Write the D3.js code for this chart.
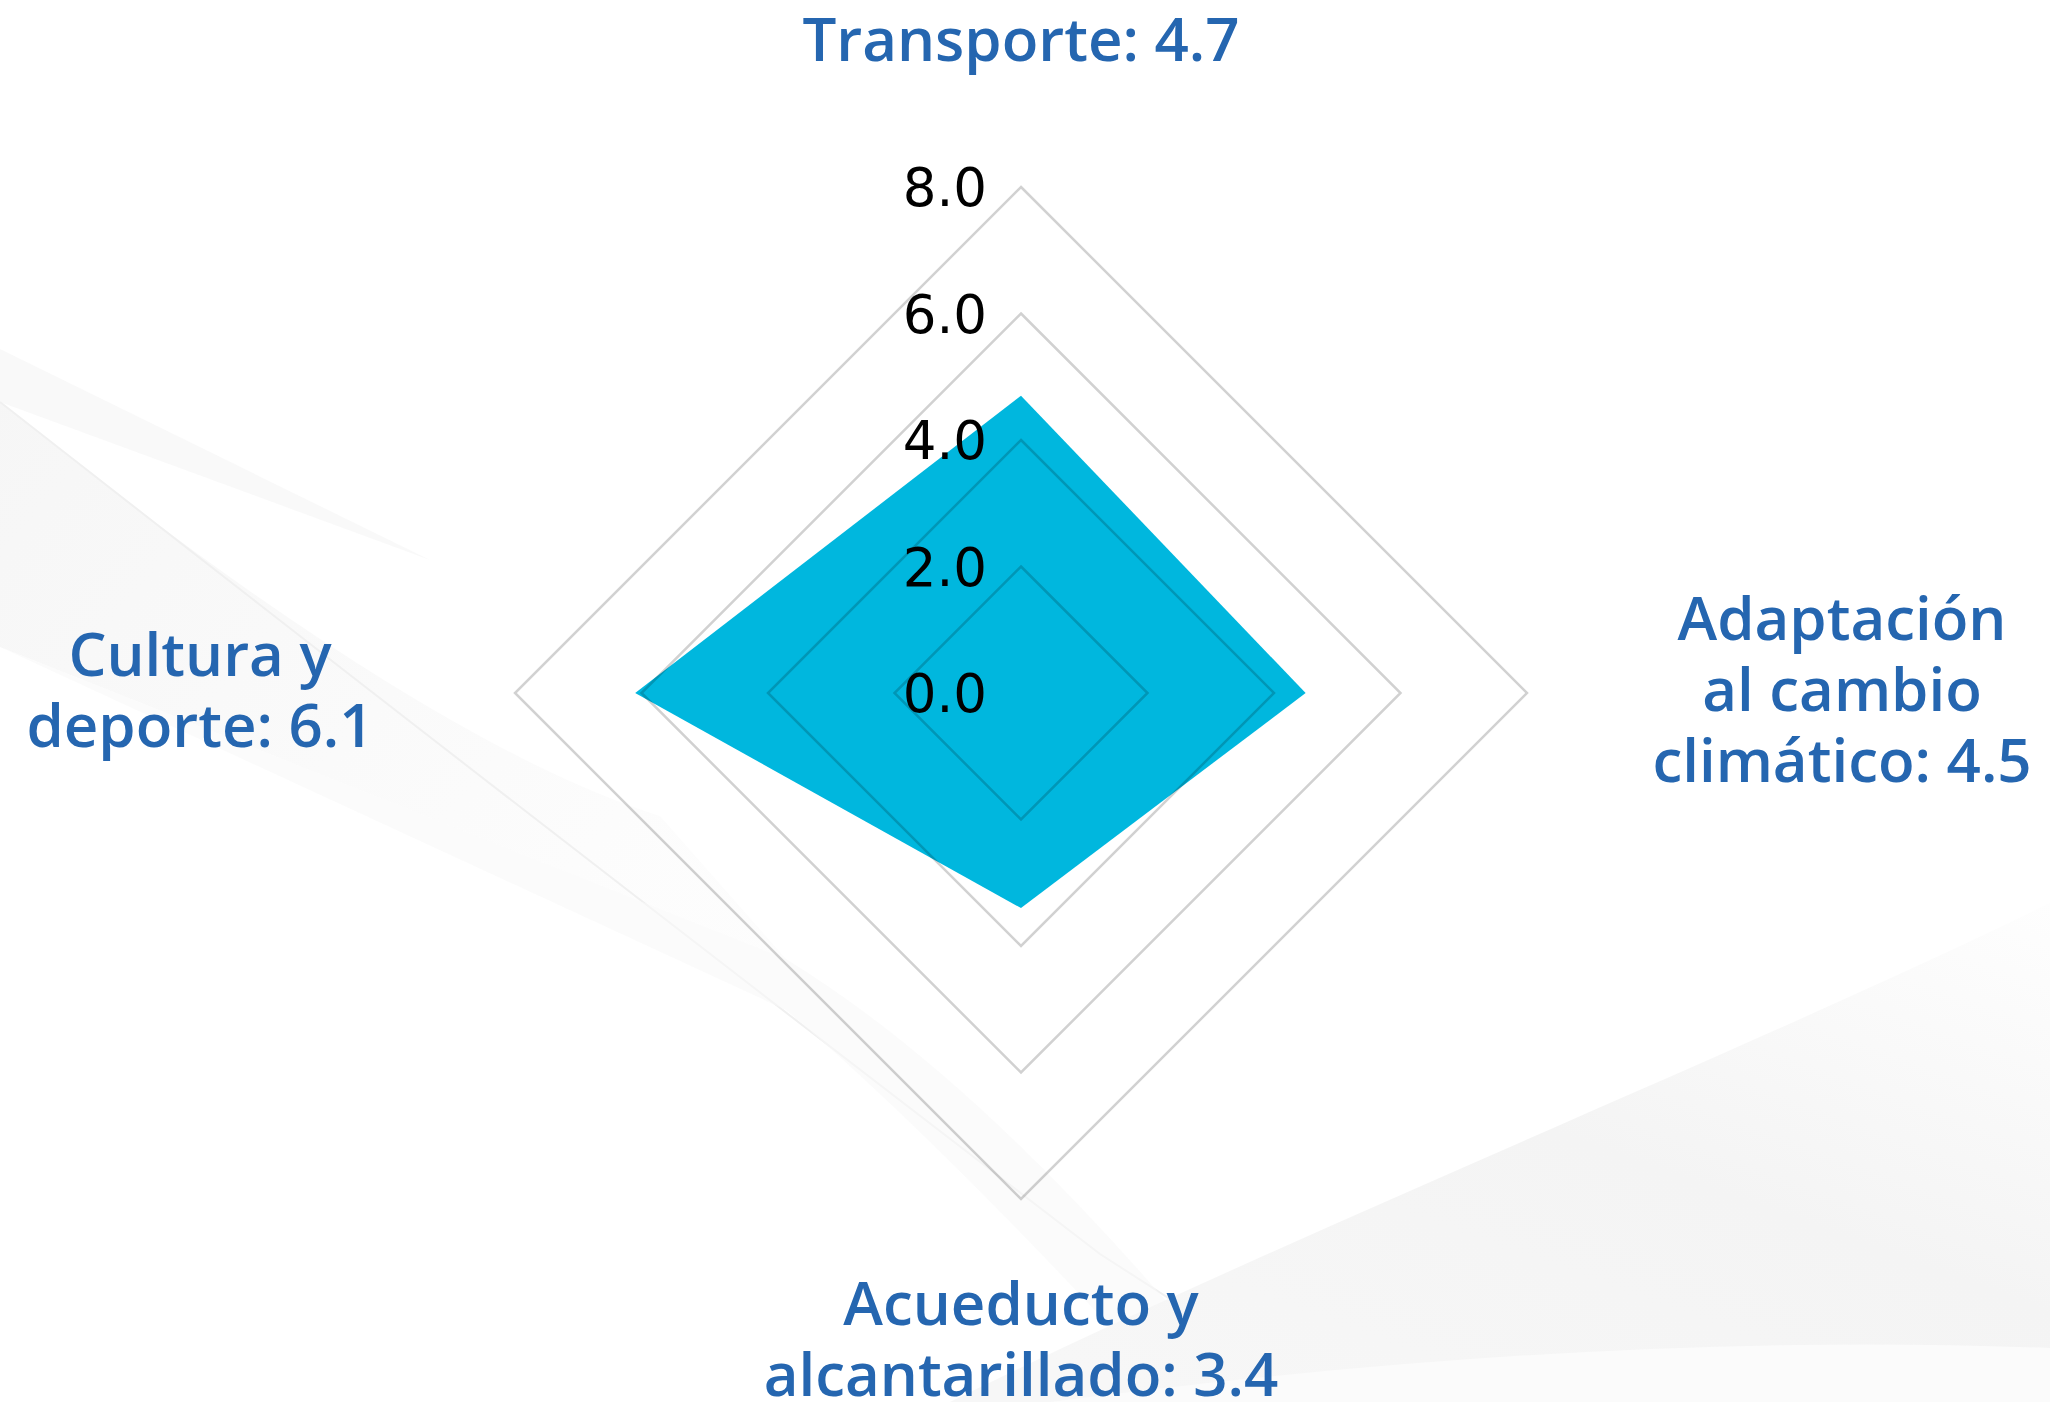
<!DOCTYPE html>
<html>
<head>
<meta charset="utf-8">
<script src="https://cdn.jsdelivr.net/npm/d3@7"></script>
<style>
    body { margin: 0; background: #fff; }
    #radar { width: 2050px; height: 1402px; }
</style>
</head>
<body>
<div id="radar"></div>
<script>

// chart data
const categories = ["Transporte", "Adaptación al cambio climático", "Acueducto y alcantarillado", "Cultura y deporte"];
const labelLines = [["Transporte"], ["Adaptación", "al cambio", "climático"], ["Acueducto y", "alcantarillado"], ["Cultura y", "deporte"]];
const values = [4.7, 4.5, 3.4, 6.1];
const tickValues = [0, 2, 4, 6, 8];

/* * * * * * * * * * * * * *
*         RadarVis          *
* * * * * * * * * * * * * */

class RadarVis {

    constructor(parentElement) {
        this.parentElement = parentElement;
        this.initVis();
    }

    initVis() {
        let vis = this;

        vis.width = 2050;
        vis.height = 1402;
        vis.cx = 1021;
        vis.cy = 693;

        vis.svg = d3.select("#" + vis.parentElement).append("svg")
            .attr("width", vis.width)
            .attr("height", vis.height);

        vis.drawBackground();

        // radial scale, 0 at the center
        vis.r = d3.scaleLinear()
            .domain([0, 8])
            .range([0, 506]);

        // one axis per category, clockwise from the top
        vis.step = 2 * Math.PI / categories.length;

        vis.updateVis();
    }

    point(i, v) {
        let vis = this;
        let a = i * vis.step;
        return [vis.cx + Math.sin(a) * vis.r(v), vis.cy - Math.cos(a) * vis.r(v)];
    }

    drawBackground() {
        let vis = this;
        let defs = vis.svg.append("defs");

        let g1 = defs.append("linearGradient").attr("id", "fadeL")
            .attr("x1", "0").attr("y1", "0").attr("x2", "1").attr("y2", "0.6");
        g1.append("stop").attr("offset", "0%").attr("stop-color", "#f4f4f4");
        g1.append("stop").attr("offset", "100%").attr("stop-color", "#fcfcfc");

        let g2 = defs.append("linearGradient").attr("id", "fadeR")
            .attr("x1", "1").attr("y1", "0").attr("x2", "0.2").attr("y2", "1");
        g2.append("stop").attr("offset", "0%").attr("stop-color", "#fefefe");
        g2.append("stop").attr("offset", "50%").attr("stop-color", "#f4f4f4");
        g2.append("stop").attr("offset", "100%").attr("stop-color", "#f7f7f7");

        let bg = vis.svg.append("g").attr("class", "background");

        // left swooshes
        bg.append("path")
            .attr("d", "M0,349 L430,560 L0,402 Z")
            .attr("fill", "#f5f5f5")
            .attr("opacity", 0.6);
        bg.append("path")
            .attr("d", "M0,402 Q420,740 660,816 L786,959 L0,647 Z")
            .attr("fill", "url(#fadeL)")
            .attr("opacity", 0.8);
        bg.append("path")
            .attr("d", "M0,402 Q560,840 1100,1254 Q1250,1350 1330,1402")
            .attr("fill", "none")
            .attr("stroke", "#f0f0f0")
            .attr("stroke-width", 2);
        bg.append("path")
            .attr("d", "M0,647 L786,959 Q1000,1090 1250,1402 L1180,1402 Q940,1140 786,1010 Z")
            .attr("fill", "#f8f8f8")
            .attr("opacity", 0.6);

        // bottom right swoosh
        bg.append("path")
            .attr("d", "M2050,903 C1750,1050 1300,1230 950,1402 L2050,1402 Z")
            .attr("fill", "url(#fadeR)");
        bg.append("path")
            .attr("d", "M1050,1402 Q1600,1330 2050,1348 L2050,1402 Z")
            .attr("fill", "#fbfbfb");
    }

    updateVis() {
        let vis = this;

        let line = d3.line().curve(d3.curveLinearClosed);

        // data polygon
        vis.svg.append("path")
            .datum(values)
            .attr("class", "area")
            .attr("d", d => line(d.map((v, i) => vis.point(i, v))))
            .attr("fill", "#00b7de");

        // grid rings drawn on top of the area
        vis.svg.selectAll(".ring")
            .data(tickValues.filter(t => t > 0))
            .enter().append("path")
            .attr("class", "ring")
            .attr("d", t => line(categories.map((c, i) => vis.point(i, t))))
            .attr("fill", "none")
            .attr("stroke", "#000")
            .attr("stroke-opacity", 0.18)
            .attr("stroke-width", 2.5);

        // tick labels
        vis.svg.selectAll(".tick-label")
            .data(tickValues)
            .enter().append("text")
            .attr("class", "tick-label")
            .attr("x", vis.cx - 34)
            .attr("y", t => vis.cy - vis.r(t))
            .attr("dy", "0.36em")
            .attr("text-anchor", "end")
            .style("font-family", "'DejaVu Sans', sans-serif")
            .style("font-size", "53px")
            .style("fill", "#000")
            .text(d3.format(".1f"));

        // category labels
        let lineH = 71;
        let labelR = 821;
        let labelTop = 632;
        let labels = vis.svg.selectAll(".cat-label")
            .data(categories)
            .enter().append("text")
            .attr("class", "cat-label")
            .attr("text-anchor", "middle")
            .style("font-family", "'Open Sans', sans-serif")
            .style("font-weight", 600)
            .style("font-size", "60px")
            .style("fill", "#2566b0");

        labels.each(function(d, i) {
            let lines = labelLines[i].slice();
            lines[lines.length - 1] = lines[lines.length - 1] + ": " + values[i];
            let a = i * vis.step;
            let x = vis.cx + Math.round(Math.sin(a)) * labelR;
            let n = lines.length;
            let y0;
            if (Math.round(Math.cos(a)) === 1) {
                y0 = vis.cy - labelTop - (n - 1) * lineH;
            } else if (Math.round(Math.cos(a)) === -1) {
                y0 = vis.cy + labelTop;
            } else {
                y0 = vis.cy - (n - 1) / 2 * lineH + 18;
            }
            d3.select(this).selectAll("tspan")
                .data(lines)
                .enter().append("tspan")
                .attr("x", x)
                .attr("y", (l, j) => y0 + j * lineH)
                .text(l => l);
        });
    }
}

new RadarVis("radar");

</script>
</body>
</html>
